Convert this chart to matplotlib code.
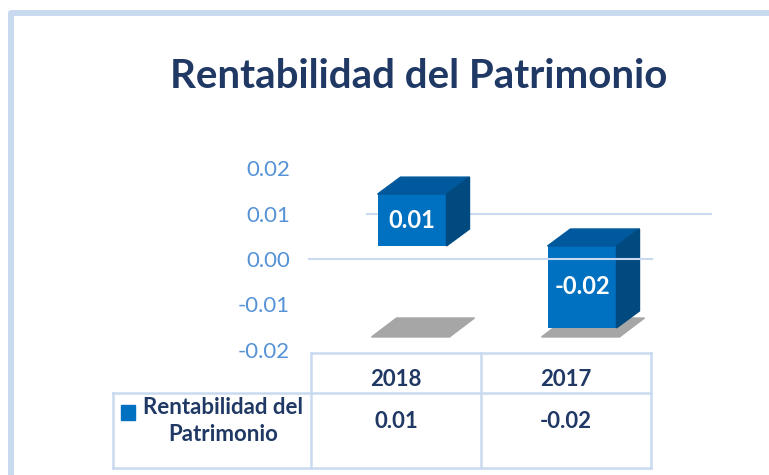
import matplotlib
matplotlib.use('Agg')
import matplotlib.pyplot as plt
from matplotlib.patches import Polygon, Rectangle
from matplotlib.transforms import ScaledTranslation

plt.rcParams['font.family'] = ['Lato', 'DejaVu Sans']

# datos
titulo = 'Rentabilidad del Patrimonio'
anios = ['2018', '2017']
valores = [0.0114, -0.018]
etiquetas = ['0.01', '-0.02']
serie = 'Rentabilidad del\nPatrimonio'
y_ticks = [-0.02, -0.01, 0.00, 0.01, 0.02]

W, H = 769, 475
AZUL = '#0070c0'
NAVY = '#1f3864'
LINEA = '#c9daf0'


def px_box(x0, y0, x1, y1):
    """caja en pixeles (origen arriba) -> fraccion de figura"""
    return [x0 / W, 1 - y1 / H, (x1 - x0) / W, (y1 - y0) / H]


fig = plt.figure(figsize=(W / 100, H / 100), dpi=100)

# marco del grafico
fig.add_artist(Rectangle((11 / W, -0.1), 1.2, 1 - 13 / H + 0.1, transform=fig.transFigure,
                         fill=False, edgecolor=LINEA, lw=4.3, joinstyle='round'))

fig.text(419 / W, 1 - 77 / H, titulo, ha='center', va='center', fontsize=29,
         fontweight='bold', color=NAVY)

ax = fig.add_axes(px_box(311, 168, 651, 350))
ax.set_xlim(0, 2)
ax.set_ylim(-0.02, 0.02)
for s in ax.spines.values():
    s.set_visible(False)
ax.set_xticks([])
ax.set_yticks(y_ticks)
ax.set_yticklabels([f'{v:.2f}' for v in y_ticks])
ax.tick_params(axis='y', length=0, pad=15, labelsize=16, labelcolor='#5592d6')
ax.patch.set_alpha(0)

# perspectiva 3D: cara frontal desplazada y profundidad
frente = ax.transData + ScaledTranslation(16 / 100, 13 / 100, fig.dpi_scale_trans)
px_x, px_y = 170.0, 4550.0
dx, dy = 23 / px_x, 17 / px_y
w = 69 / px_x
xs = [0.5, 1.5]

# lineas de cuadricula
ax.plot([0.33, 2.35], [0.01, 0.01], color=LINEA, lw=1.5, clip_on=False, zorder=1)
ax.plot([-0.012, 2.006], [0.0, 0.0], color=LINEA, lw=1.5, clip_on=False, zorder=6)

ax.bar(xs, valores, width=w, color=AZUL, transform=frente, zorder=3)

for x, v, lab in zip(xs, valores, etiquetas):
    x0, x1 = x - w / 2, x + w / 2
    top, bot = max(v, 0), min(v, 0)
    # sombra en el piso
    piso = y_ticks[0]
    ax.add_patch(Polygon([(x0 - 6 / px_x, piso), (x1 + 3 / px_x, piso),
                          (x1 + 28 / px_x, piso + 19 / px_y), (x0 + 19 / px_x, piso + 19 / px_y)],
                         closed=True, color='#a6a6a6', transform=frente, zorder=2))
    ax.add_patch(Polygon([(x0, top), (x1, top), (x1 + dx, top + dy), (x0 + dx, top + dy)],
                         closed=True, color='#00599d', transform=frente, zorder=3))
    ax.add_patch(Polygon([(x1, bot), (x1 + dx, bot + dy), (x1 + dx, top + dy), (x1, top)],
                         closed=True, color='#004a80', transform=frente, zorder=3))
    ax.text(x, (top + bot) / 2, lab, ha='center', va='center', color='white',
            fontsize=17, fontweight='bold', transform=frente, zorder=7)

# tabla de datos
tb = fig.add_axes(px_box(113, 353, 651, 468))
x_izq = -198 / px_x
tb.set_xlim(x_izq, 2)
tb.set_ylim(115, 0)
tb.axis('off')
kw = dict(color=LINEA, lw=1.8, clip_on=False)
for xv in [0, 1, 2]:
    tb.plot([xv, xv], [0, 115], **kw)
tb.plot([x_izq, x_izq], [40, 115], **kw)
tb.plot([0, 2], [0, 0], **kw)
tb.plot([x_izq, 2], [40, 40], **kw)
tb.plot([x_izq, 2], [115, 115], **kw)

for x, a, lab in zip(xs, anios, etiquetas):
    tb.text(x, 27, a, ha='center', va='center', fontsize=16, fontweight='bold', color=NAVY)
    tb.text(x, 68, lab, ha='center', va='center', fontsize=16, fontweight='bold', color=NAVY)

tb.add_patch(Rectangle((x_izq + 8 / px_x, 52), 14 / px_x, 15, color=AZUL, clip_on=False))
tb.text(x_izq + 110 / px_x, 68, serie, ha='center', va='center', fontsize=16,
        fontweight='bold', color=NAVY, linespacing=1.4)

fig.savefig('out.png', dpi=100)
